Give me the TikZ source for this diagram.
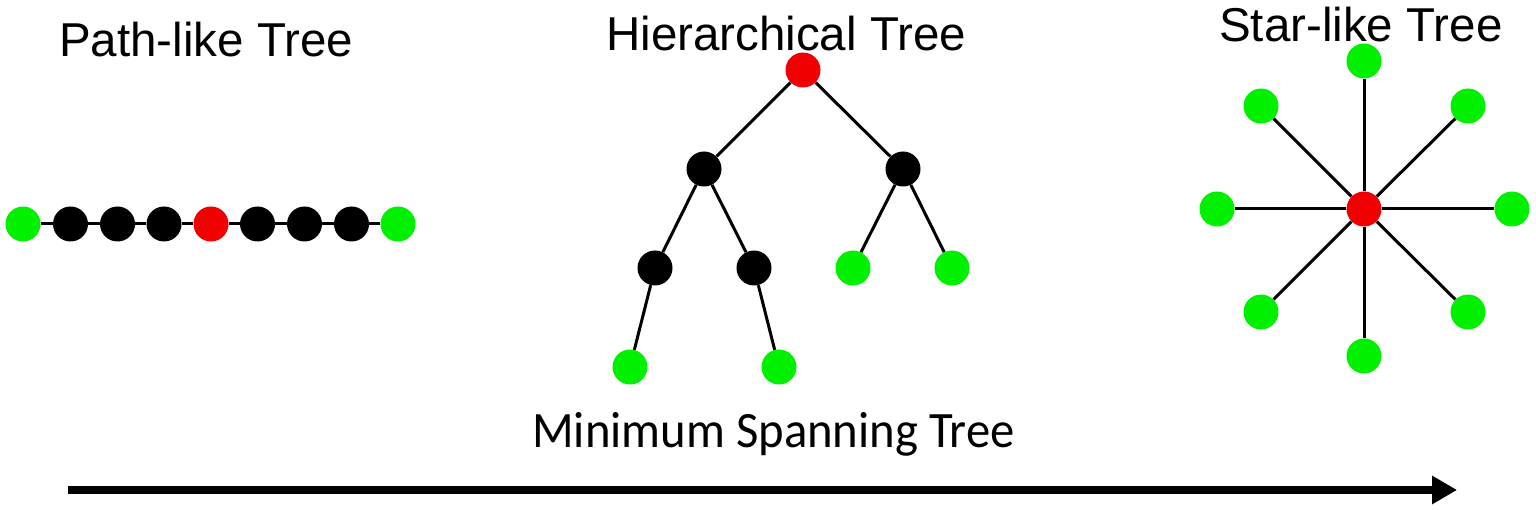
\documentclass[tikz,border=0pt]{standalone}
\usepackage{fontspec}
\usepackage{graphicx}
\setmainfont{Liberation Sans}
\newfontfamily\calfont{Carlito}
\usetikzlibrary{arrows.meta}
\definecolor{vgreen}{RGB}{0,240,0}
\definecolor{vred}{RGB}{240,0,0}
\tikzset{
  dot/.style={circle,inner sep=0pt,minimum size=35pt},
  gdot/.style={dot,fill=vgreen},
  bdot/.style={dot,fill=black},
  rdot/.style={dot,fill=vred},
  edge/.style={line width=3pt},
  title/.style={inner sep=0pt,anchor=base west,font=\fontsize{47.5}{50}\selectfont},
}
\begin{document}
\begin{tikzpicture}[x=1pt,y=-1pt]
\useasboundingbox (0,0) rectangle (1536,510);
% titles
\node[title] (t1) at (59,57) {Path-like Tree};
\node[title] (t2) at (606,51) {Hierarchical Tree};
\node[title] (t3) at (1219,42) {Star-like Tree};
\node[inner sep=0pt,anchor=base west,font=\calfont\fontsize{51}{54}\selectfont] (mst) at (532,447) {\scalebox{0.955}[1]{Minimum Spanning Tree}};
% path-like
\node[gdot] (p1) at (23,224) {};
\node[bdot] (p2) at (70.5,224) {};
\node[bdot] (p3) at (117.5,224) {};
\node[bdot] (p4) at (164,224) {};
\node[rdot] (p5) at (211,224) {};
\node[bdot] (p6) at (257.5,224) {};
\node[bdot] (p7) at (304.5,224) {};
\node[bdot] (p8) at (351.5,224) {};
\node[gdot] (p9) at (398,224) {};
\foreach \a/\b in {p1/p2,p2/p3,p3/p4,p4/p5,p5/p6,p6/p7,p7/p8,p8/p9}
  \draw[edge] (\a) -- (\b);
% hierarchical
\node[rdot] (h0) at (803,70) {};
\node[bdot] (h1) at (704,169) {};
\node[bdot] (h2) at (903,169) {};
\node[bdot] (h3) at (655,268) {};
\node[bdot] (h4) at (754,268) {};
\node[gdot] (h5) at (853,268) {};
\node[gdot] (h6) at (952,268) {};
\node[gdot] (h7) at (630,367) {};
\node[gdot] (h8) at (779,367) {};
\foreach \a/\b in {h0/h1,h0/h2,h1/h3,h1/h4,h2/h5,h2/h6,h3/h7,h4/h8}
  \draw[edge] (\a) -- (\b);
% star-like
\node[rdot] (s0) at (1364,209) {};
\node[gdot] (s1) at (1364,61) {};
\node[gdot] (s2) at (1468,106) {};
\node[gdot] (s3) at (1512,209) {};
\node[gdot] (s4) at (1468,312) {};
\node[gdot] (s5) at (1364,356) {};
\node[gdot] (s6) at (1261,312) {};
\node[gdot] (s7) at (1217,209) {};
\node[gdot] (s8) at (1261,106) {};
\foreach \b in {s1,s2,s3,s4,s5,s6,s7,s8}
  \draw[edge] (s0) -- (\b);
% arrow
\coordinate (a0) at (68,490);
\coordinate (a1) at (1457,490);
\draw[line width=8.5pt,-{Triangle[length=25pt,width=27pt]}] (a0) -- (a1);
\end{tikzpicture}
\end{document}
